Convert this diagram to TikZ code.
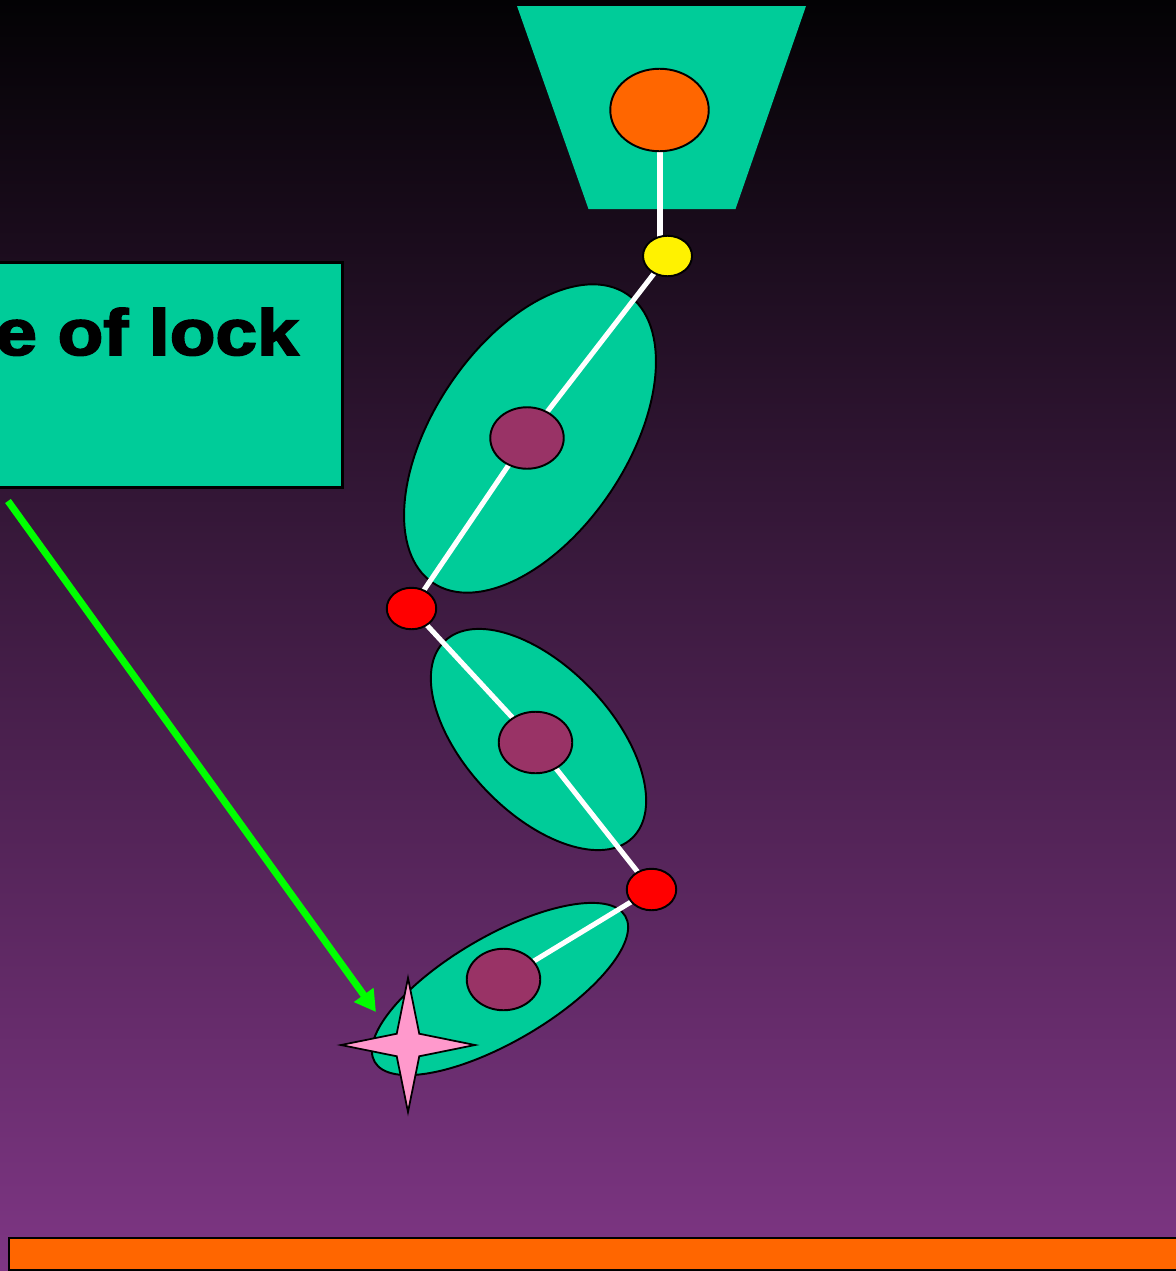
\documentclass[tikz,border=0pt]{standalone}
\usepackage{fontspec}
\setmainfont{Liberation Sans}
\newfontfamily\heavyfont{Liberation Sans}[FakeBold=2.6]
\usetikzlibrary{shapes.geometric,arrows.meta}
\definecolor{teal}{RGB}{0,204,153}
\definecolor{plum}{RGB}{153,51,102}
\definecolor{orng}{RGB}{255,102,0}
\definecolor{pink}{RGB}{255,153,204}
\definecolor{lime}{RGB}{0,255,0}
\definecolor{bgtop}{RGB}{3,2,4}
\definecolor{bgbot}{RGB}{126,54,132}
\tikzset{
  joint/.style={ellipse,draw=black,line width=1.1pt,inner sep=0pt},
  limb/.style={ellipse,draw=black,line width=1.1pt,fill=teal,inner sep=0pt},
  hub/.style={ellipse,draw=black,line width=1.1pt,fill=plum,inner sep=0pt,minimum width=1.47cm,minimum height=1.23cm},
  pin/.style={joint,fill=red,minimum width=0.99cm,minimum height=0.83cm},
  rod/.style={white,line width=2.9pt},
}
\begin{document}
\begin{tikzpicture}[x=0.02cm,y=-0.02cm]
\useasboundingbox (0,0) rectangle (1176,1271);
\shade[top color=bgtop,bottom color=bgbot] (0,0) rectangle (1176,1271);
% trapezoid
\fill[teal] (517,6) -- (806,6) -- (735.5,209) -- (588.5,209) -- cycle;
% limbs
\node (e1) [limb,minimum width=6.96cm,minimum height=3.87cm,rotate=56.1] at (530,438.5) {};
\node (e2) [limb,minimum width=5.44cm,minimum height=2.92cm,rotate=-46.4] at (538.5,739.5) {};
\node (e3) [limb,minimum width=5.8cm,minimum height=2.12cm,rotate=30.2] at (500,989) {};
% node positions
\coordinate (oc) at (659.5,110);
\coordinate (yc) at (667.5,256);
\coordinate (p1c) at (527,438);
\coordinate (r1c) at (411.5,608.5);
\coordinate (p2c) at (535.5,742.5);
\coordinate (r2c) at (651.5,889.5);
\coordinate (p3c) at (503.5,979.5);
% rods
\draw[rod] (660,152) -- (660,240);
\draw[rod] (yc) -- (p1c) -- (r1c);
\draw[rod] (r1c) -- (p2c) -- (r2c);
\draw[rod] (r2c) -- (p3c);
% joints
\node (orange) [joint,fill=orng,minimum width=1.97cm,minimum height=1.65cm] at (oc) {};
\node (yellow) [joint,fill=yellow,minimum width=0.98cm,minimum height=0.81cm] at (yc) {};
\node (p1) [hub] at (p1c) {};
\node (r1) [pin] at (r1c) {};
\node (p2) [hub] at (p2c) {};
\node (r2) [pin] at (r2c) {};
\node (p3) [hub] at (p3c) {};
% star
\node (star) [star,star points=4,star point ratio=4.2,minimum size=2.68cm,inner sep=0pt,draw=black,line width=1pt,fill=pink] at (408,1045) {};
% label box
\node (box) [draw=black,line width=1.6pt,fill=teal,minimum width=7.1cm,minimum height=4.5cm,inner sep=0pt,anchor=north east] at (344,261) {};
\node (lbl) [anchor=base east,inner sep=0pt] at (299,355) {\scalebox{1.15}[1]{\heavyfont\bfseries\fontsize{37}{40}\selectfont e of lock}};
% arrow
\coordinate (a0) at (8,501);
\coordinate (a1) at (376,1012);
\draw[lime,line width=4pt,-{Triangle[length=12pt,width=13pt]}] (a0) -- (a1);
% bottom bar
\node (bar) [draw=black,line width=1.2pt,fill=orng,minimum width=23.7cm,minimum height=0.64cm,inner sep=0pt,anchor=north west] at (8,1237) {};
\end{tikzpicture}
\end{document}
